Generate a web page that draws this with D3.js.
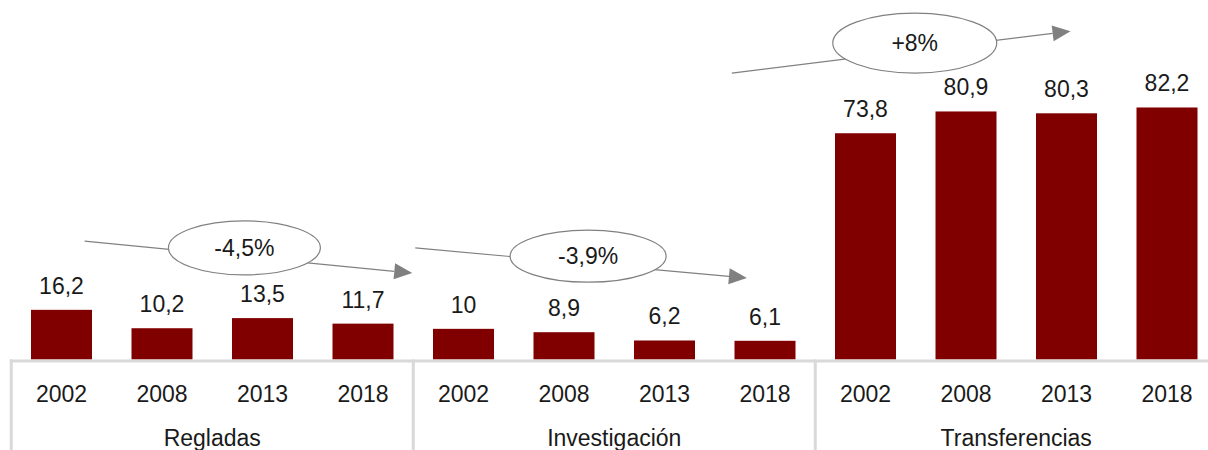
<!DOCTYPE html>
<html><head><meta charset="utf-8">
<script src="https://cdn.jsdelivr.net/npm/d3@7"></script>
<style>body{margin:0;background:#fff}svg{display:block}</style>
</head><body><svg id="c" width="1208" height="450"></svg>
<script>
const groups = ["Regladas", "Investigación", "Transferencias"];
const years = ["2002", "2008", "2013", "2018"];
const regladas = [16.2, 10.2, 13.5, 11.7];
const investigacion = [10, 8.9, 6.2, 6.1];
const transferencias = [73.8, 80.9, 80.3, 82.2];
const seriesValues = [regladas, investigacion, transferencias];
// trend annotations: positions in slot units (x) and value units (y)
const trendLabels = ["-4,5%", "-3,9%", "+8%"];
const trendStart = [[0.73, 38.6], [4.02, 36.4], [7.17, 93.4]];
const trendEnd = [[3.99, 28.2], [7.32, 26.6], [10.54, 107.1]];
const trendBubble = [[2.32, 36.4, 76, 27], [5.74, 33.7, 78, 26], [8.99, 103.2, 82, 30]];

const font = "'Liberation Sans', Arial, sans-serif";
const fs = 23;
const svg = d3.select("#c");
const x0 = 11.25, slotW = 100.5;
const gx = d3.scaleBand().domain(groups).range([x0, x0 + slotW * 12]).padding(0);
const bx = d3.scaleBand().domain(years).range([0, gx.bandwidth()]).paddingInner(0.393).paddingOuter(0.1965);
const y = d3.scaleLinear().domain([0, 90]).range([359.5, 359.5 - 90 * 3.066]);
const sx = d3.scaleLinear().domain([0, 12]).range([x0, x0 + slotW * 12]);

const data = [];
groups.forEach((g, gi) => years.forEach((yr, yi) => data.push({g, yr, v: seriesValues[gi][yi]})));

svg.selectAll("rect.bar").data(data).join("rect").attr("class", "bar")
  .attr("x", d => gx(d.g) + bx(d.yr)).attr("width", bx.bandwidth())
  .attr("y", d => y(d.v)).attr("height", d => y(0) - y(d.v)).attr("fill", "#800000");

svg.selectAll("text.val").data(data).join("text").attr("class", "val")
  .attr("x", d => gx(d.g) + bx(d.yr) + bx.bandwidth() / 2).attr("y", d => y(d.v) - 16)
  .attr("text-anchor", "middle").attr("font-family", font).attr("font-size", fs).attr("fill", "#1a1a1a")
  .text(d => String(d.v).replace(".", ","));

// axis
const axG = svg.append("g");
axG.append("line").attr("x1", x0 - 1.5).attr("x2", 1208).attr("y1", y(0) + 1.5).attr("y2", y(0) + 1.5)
  .attr("stroke", "#d9d9d9").attr("stroke-width", 3);
groups.forEach(g => {
  axG.append("line").attr("x1", gx(g)).attr("x2", gx(g)).attr("y1", y(0)).attr("y2", 450)
    .attr("stroke", "#d9d9d9").attr("stroke-width", 3);
});
svg.selectAll("text.yr").data(data).join("text").attr("class", "yr")
  .attr("x", d => gx(d.g) + bx(d.yr) + bx.bandwidth() / 2).attr("y", 402)
  .attr("text-anchor", "middle").attr("font-family", font).attr("font-size", fs).attr("fill", "#1a1a1a")
  .text(d => d.yr);
svg.selectAll("text.grp").data(groups).join("text").attr("class", "grp")
  .attr("x", g => gx(g) + gx.bandwidth() / 2).attr("y", 446)
  .attr("text-anchor", "middle").attr("font-family", font).attr("font-size", fs).attr("fill", "#1a1a1a")
  .text(g => g);

// trend arrows
trendLabels.forEach((lab, i) => {
  const xa = sx(trendStart[i][0]), ya = y(trendStart[i][1]);
  const xb = sx(trendEnd[i][0]), yb = y(trendEnd[i][1]);
  const ang = Math.atan2(yb - ya, xb - xa);
  const L = 18, W = 8;
  const bxp = xb - L * Math.cos(ang), byp = yb - L * Math.sin(ang);
  svg.append("line").attr("x1", xa).attr("y1", ya).attr("x2", bxp).attr("y2", byp)
    .attr("stroke", "#808080").attr("stroke-width", 1.2);
  const pts = [[xb, yb],
    [bxp + W * Math.sin(ang), byp - W * Math.cos(ang)],
    [bxp - W * Math.sin(ang), byp + W * Math.cos(ang)]];
  svg.append("polygon").attr("points", pts.map(p => p.join(",")).join(" ")).attr("fill", "#808080");
  const b = trendBubble[i];
  svg.append("ellipse").attr("cx", sx(b[0])).attr("cy", y(b[1])).attr("rx", b[2]).attr("ry", b[3])
    .attr("fill", "#fff").attr("stroke", "#808080").attr("stroke-width", 1.2);
  svg.append("text").attr("x", sx(b[0])).attr("y", y(b[1])).attr("dy", "0.36em")
    .attr("text-anchor", "middle").attr("font-family", font).attr("font-size", fs).attr("fill", "#1a1a1a")
    .text(lab);
});
</script></body></html>
